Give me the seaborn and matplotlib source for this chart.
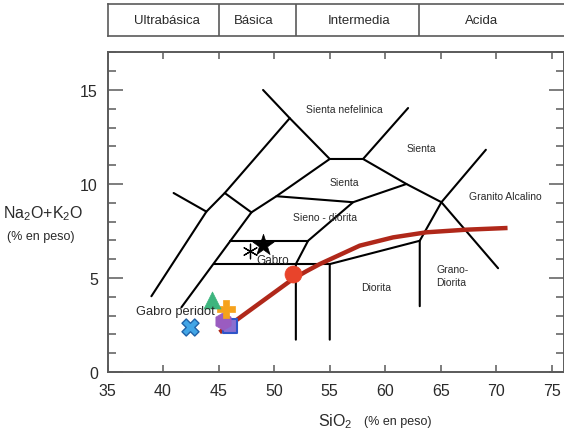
import matplotlib
matplotlib.use("Agg")
import matplotlib.pyplot as plt
import pandas as pd
import seaborn as sns

# Field boundaries of the plutonic TAS diagram, one polyline per list
boundary_sio2 = [
    [49.0, 51.4, 55.0, 58.0, 62.05],
    [58.0, 61.9, 65.05, 70.15],
    [69.05, 65.05, 63.1, 63.1],
    [63.1, 55.0, 55.0],
    [44.55, 55.0],
    [51.95, 51.95, 53.05, 57.1, 61.9],
    [46.05, 53.05],
    [50.2, 57.1],
    [51.4, 45.55, 43.9, 38.95],
    [40.95, 43.9],
    [45.55, 47.95],
    [47.95, 50.2, 55.0],
    [47.95, 41.65],
]
boundary_alk = [
    [15.0, 13.5, 11.33, 11.33, 14.04],
    [11.33, 10.0, 9.03, 5.52],
    [11.82, 9.03, 6.98, 3.5],
    [6.98, 5.74, 1.72],
    [5.74, 5.74],
    [1.72, 5.74, 6.98, 9.03, 10.0],
    [6.98, 6.98],
    [9.35, 9.03],
    [13.5, 9.52, 8.53, 4.03],
    [9.52, 8.53],
    [9.52, 8.49],
    [8.49, 9.35, 11.33],
    [8.49, 3.44],
]

# Alkaline / subalkaline dividing curve
curve_sio2 = [45.09, 51.69, 52.9, 54.1, 57.7, 60.7, 63.7, 67.3, 71.0]
curve_alk = [2.11, 4.95, 5.36, 5.74, 6.72, 7.16, 7.43, 7.57, 7.66]

# Analysed samples
sample_ids = ["m1", "m2", "m3", "m4", "m5", "m6", "m7", "m8"]
sample_sio2 = [46.05, 45.39, 45.63, 44.43, 42.4, 51.69, 49.0, 47.85]
sample_alk = [2.46, 2.73, 3.35, 3.83, 2.41, 5.21, 6.75, 6.45]

# Header classes by silica content
class_names = ["Ultrabásica", "Básica", "Intermedia", "Acida"]
class_limits = [45, 52, 63]

x_ticks = [35, 40, 45, 50, 55, 60, 65, 70, 75]
y_ticks = [0, 5, 10, 15]

sns.set_style("ticks")
plt.rcParams["font.family"] = ["Liberation Sans", "DejaVu Sans"]
plt.rcParams["mathtext.fontset"] = "custom"
plt.rcParams["mathtext.rm"] = "Liberation Sans"
plt.rcParams["mathtext.it"] = "Liberation Sans"

W, H = 564, 435
fig = plt.figure(figsize=(W / 100, H / 100), dpi=100)
left = 107.5 / W
bottom = (H - 373) / H
top = (H - 53) / H
ax = fig.add_axes([left, bottom, 1 - left, top - bottom])

spine_col = "#5a5a5a"
txt_col = "#2a2a2a"

# field boundaries
rows = []
for k, (xs, ys) in enumerate(zip(boundary_sio2, boundary_alk)):
    for i, (xv, yv) in enumerate(zip(xs, ys)):
        rows.append({"seg": k, "order": i, "sio2": xv, "alk": yv})
bdf = pd.DataFrame(rows)
sns.lineplot(data=bdf, x="sio2", y="alk", units="seg", estimator=None,
             sort=False, color="black", linewidth=1.5, ax=ax, zorder=2)

# dividing curve
cdf = pd.DataFrame({"sio2": curve_sio2, "alk": curve_alk})
sns.lineplot(data=cdf, x="sio2", y="alk", sort=False, estimator=None,
             color="#b0281a", linewidth=3.2, ax=ax, zorder=3,
             solid_capstyle="butt", solid_joinstyle="round")

# samples
sdf = pd.DataFrame({"id": sample_ids, "sio2": sample_sio2, "alk": sample_alk})
styles = {
    "m1": dict(marker="s", s=95, color="#8a6fd0", edgecolor="#2f55c8", linewidth=1.5),
    "m2": dict(marker="h", s=160, color="#9a5cc0", edgecolor="#9a5cc0", linewidth=0.5),
    "m3": dict(marker="P", s=170, color="#f6a21c", edgecolor="#f6a21c", linewidth=0.5),
    "m4": dict(marker="^", s=150, color="#3db57e", edgecolor="#3db57e", linewidth=0.5),
    "m5": dict(marker="X", s=150, color="#42a5e6", edgecolor="#1f62a8", linewidth=1.0),
    "m6": dict(marker="o", s=150, color="#e8442b", edgecolor="#e8442b", linewidth=0.5),
    "m7": dict(marker="*", s=260, color="black", edgecolor="black", linewidth=0.5),
    "m8": dict(marker=(6, 2, 0), s=110, color="black", edgecolor="black", linewidth=0.9),
}
for sid in sample_ids:
    sub = sdf[sdf["id"] == sid]
    sns.scatterplot(data=sub, x="sio2", y="alk", ax=ax, zorder=4,
                    legend=False, **styles[sid])

# field names
lab_kw = dict(color=txt_col, fontsize=7.5, ha="center", va="center", zorder=5)
ax.text(56.35, 14.0, "Sienta nefelinica", **lab_kw)
ax.text(63.25, 11.89, "Sienta", **lab_kw)
ax.text(56.35, 10.09, "Sienta", **lab_kw)
ax.text(70.8, 9.37, "Granito Alcalino", **lab_kw)
ax.text(54.55, 8.24, "Sieno - diorita", **lab_kw)
ax.text(59.2, 4.51, "Diorita", **lab_kw)
ax.text(64.6, 5.12, "Grano-\nDiorita", color=txt_col, fontsize=7.5,
        ha="left", va="center", linespacing=1.4, zorder=5)
ax.text(48.4, 5.98, "Gabro", color=txt_col, fontsize=8.5, ha="left",
        va="center", zorder=5)
ax.text(37.6, 3.22, "Gabro peridot", color=txt_col, fontsize=9.3, ha="left",
        va="center", zorder=5)

ax.set_xlim(35, 35 + (W - 108) / 11.1)
ax.set_ylim(0, 17.02)
ax.set_xticks(x_ticks)
ax.set_yticks(y_ticks)
ax.set_yticks(range(0, 18), minor=True)
ax.set_xticklabels([str(v) for v in x_ticks])
ax.set_yticklabels([str(v) for v in y_ticks])
ax.set_xlabel("")
ax.set_ylabel("")
ax.tick_params(axis="x", which="major", direction="in", length=5, width=1.1,
               color=spine_col, top=True, labelsize=11.5, pad=8,
               labelcolor=txt_col)
ax.tick_params(axis="y", which="major", direction="in", length=11, width=1.1,
               color=spine_col, right=True, labelsize=11.5, pad=7,
               labelcolor=txt_col)
ax.tick_params(axis="y", which="minor", direction="in", length=5.5, width=1.1,
               color=spine_col, right=True)
for sp in ax.spines.values():
    sp.set_color(spine_col)
    sp.set_linewidth(1.4)

# header with silica classes
hax = fig.add_axes([left, (H - 36.7) / H, 1 - left, (36.7 - 5) / H])
hax.set_xlim(ax.get_xlim())
hax.set_ylim(0, 1)
hax.set_xticks([])
hax.set_yticks([])
for name, sp in hax.spines.items():
    sp.set_color(spine_col)
    sp.set_linewidth(1.2)
hax.spines["right"].set_visible(False)
for xv in class_limits:
    hax.axvline(xv, color=spine_col, linewidth=1.2)
for name, xc in zip(class_names, [40.36, 48.15, 57.6, 68.7]):
    hax.text(xc, 0.5, name, ha="center", va="center", fontsize=9.5,
             color=txt_col)

# axis titles
fig.text(43.6 / W, (H - 214) / H, "Na$_2$O+K$_2$O", ha="center", va="center",
         fontsize=11.5, color=txt_col)
fig.text(41 / W, (H - 237) / H, "(% en peso)", ha="center", va="center",
         fontsize=9, color=txt_col)
fig.text(335 / W, (H - 421.7) / H, "SiO$_2$", ha="center", va="center",
         fontsize=11.5, color=txt_col)
fig.text(398 / W, (H - 421.7) / H, "(% en peso)", ha="center", va="center",
         fontsize=9, color=txt_col)

fig.savefig("out.png", dpi=100)
